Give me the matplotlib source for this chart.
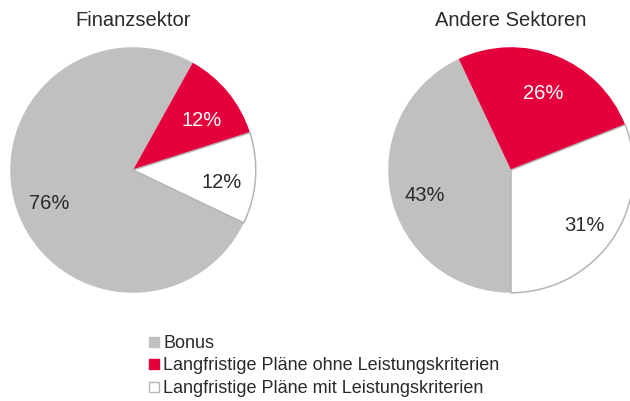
# Pie charts: Vergütungsstruktur Finanzsektor vs. andere Sektoren

import matplotlib.pyplot as plt
from matplotlib.lines import Line2D

plt.rcParams['font.family'] = ['Liberation Sans', 'DejaVu Sans']

categories = ['Bonus',
              'Langfristige Pläne ohne Leistungskriterien',
              'Langfristige Pläne mit Leistungskriterien']
finanz = [76, 12, 12]
andere = [43, 26, 31]
titles = ['Finanzsektor', 'Andere Sektoren']

colors = ['#c0c0c0', '#e4003b', '#ffffff']
text_colors = ['#2a2a2a', '#ffffff', '#2a2a2a']
edge = '#b5b5b5'

W, H = 630, 401
fig = plt.figure(figsize=(6.3, 4.01), dpi=100)

r = 124
centers = [(133, 170), (511, 170)]
starts = [-25.5, -90]

for (cx, cy), vals, title, start in zip(centers, [finanz, andere], titles, starts):
    ax = fig.add_axes([(cx - r) / W, (H - cy - r) / H, 2 * r / W, 2 * r / H])
    wedges, texts, autotexts = ax.pie(vals, colors=colors, startangle=start,
                                      counterclock=False, radius=1,
                                      autopct='%d%%', pctdistance=0.72,
                                      wedgeprops=dict(linewidth=0))
    wedges[2].set_edgecolor(edge)
    wedges[2].set_linewidth(1.1)
    for t, c in zip(autotexts, text_colors):
        x, y = t.get_position()
        t.set_position((x, y - 0.05))
        t.set_color(c)
        t.set_fontsize(14.5)
    ax.set_xlim(-1.01, 1.01)
    ax.set_ylim(-1.01, 1.01)
    ax.set_aspect('equal')
    ax.axis('off')
    fig.text(cx / W, 1 - 20 / H, title, ha='center', va='center',
             fontsize=14.5, color='#2a2a2a')

handles = [Line2D([], [], marker='s', linestyle='none', markersize=7.5,
                  markerfacecolor=c, markeredgecolor=(edge if c == '#ffffff' else c),
                  markeredgewidth=1)
           for c in colors]
fig.legend(handles, categories, loc='upper left',
           bbox_to_anchor=(140 / W, 1 - 326 / H), frameon=False,
           fontsize=13, handlelength=0.6, handletextpad=0.2,
           labelspacing=0.3, borderpad=0, labelcolor='#2a2a2a')

fig.savefig('out.png', dpi=100)
